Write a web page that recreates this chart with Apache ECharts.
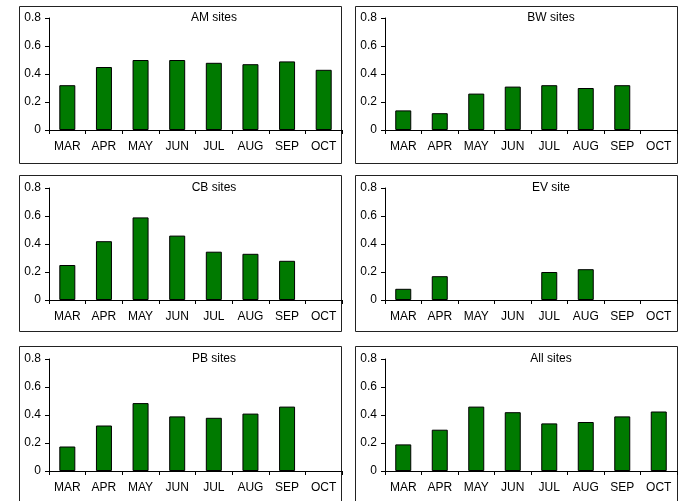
<!DOCTYPE html>
<html>
<head>
<meta charset="utf-8">
<script src="https://cdn.jsdelivr.net/npm/echarts@6/dist/echarts.min.js"></script>
<style>
  html, body { margin: 0; padding: 0; background: #fff; }
  #chart { width: 679px; height: 501px; }
</style>
</head>
<body>
<div id="chart"></div>
<script>
// Monthly values per site group
const months = ['MAR', 'APR', 'MAY', 'JUN', 'JUL', 'AUG', 'SEP', 'OCT'];
const yTicks = [0, 0.2, 0.4, 0.6, 0.8];

const amSites  = [0.32, 0.45, 0.50, 0.50, 0.48, 0.47, 0.49, 0.43];
const bwSites  = [0.14, 0.12, 0.26, 0.31, 0.32, 0.30, 0.32, null];
const cbSites  = [0.25, 0.42, 0.59, 0.46, 0.345, 0.33, 0.28, null];
const evSite   = [0.08, 0.17, null, null, 0.20, 0.22, null, null];
const pbSites  = [0.175, 0.325, 0.485, 0.39, 0.38, 0.41, 0.46, null];
const allSites = [0.19, 0.295, 0.46, 0.42, 0.34, 0.35, 0.39, 0.425];

const panelTitles = ['AM sites', 'BW sites', 'CB sites', 'EV site', 'PB sites', 'All sites'];
const panelData = [amSites, bwSites, cbSites, evSite, pbSites, allSites];

// Panel layout (pixels)
const colLeft = [49, 385];
const colWidth = [293, 292];
const rowTop = [18, 188, 359];
const plotHeight = 112;
const boxX = [19, 355];
const boxW = [322, 322];
const boxY = [6, 175, 346];
const boxH = [157, 156, 160];
const titleX = [214, 551];
const font = 'Liberation Sans, Arial, sans-serif';

const grids = [], xAxes = [], yAxes = [], series = [], graphics = [];
panelData.forEach((vals, i) => {
  const c = i % 2, r = Math.floor(i / 2);
  grids.push({ left: colLeft[c], top: rowTop[r], width: colWidth[c], height: plotHeight });
  xAxes.push({
    type: 'category', gridIndex: i, data: months,
    axisLine: { lineStyle: { color: '#000', width: 1 } },
    axisTick: { show: true, length: 4, lineStyle: { color: '#000' } },
    axisLabel: { color: '#000', fontSize: 12, fontFamily: font, margin: 11, interval: 0 }
  });
  yAxes.push({
    type: 'value', gridIndex: i, min: 0, max: 0.8, interval: 0.2,
    axisLine: { show: true, lineStyle: { color: '#000', width: 1 } },
    axisTick: { show: true, length: 4, lineStyle: { color: '#000' } },
    splitLine: { show: false },
    axisLabel: {
      color: '#000', fontSize: 12, fontFamily: font, margin: 8,
      formatter: v => (v === 0 ? '0' : v.toFixed(1))
    }
  });
  series.push({
    type: 'bar', xAxisIndex: i, yAxisIndex: i, data: vals,
    barWidth: 16,
    itemStyle: { color: '#007a00', borderColor: '#000', borderWidth: 1 },
    silent: true, animation: false
  });
  graphics.push({
    type: 'rect', silent: true, z: -1,
    shape: { x: boxX[c] + 0.5, y: boxY[r] + 0.5, width: boxW[c], height: boxH[r] },
    style: { fill: 'none', stroke: '#222', lineWidth: 1 }
  });
  graphics.push({
    type: 'text', silent: true,
    x: titleX[c], y: rowTop[r],
    style: {
      text: panelTitles[i], fill: '#000', font: '12px ' + font,
      align: 'center', verticalAlign: 'middle'
    }
  });
});

const chart = echarts.init(document.getElementById('chart'), null, { renderer: 'canvas' });
chart.setOption({
  animation: false,
  backgroundColor: '#fff',
  grid: grids,
  xAxis: xAxes,
  yAxis: yAxes,
  series: series,
  graphic: graphics
});
</script>
</body>
</html>
